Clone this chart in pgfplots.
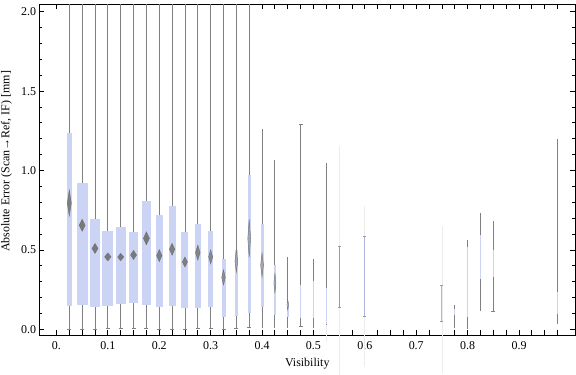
\documentclass[border=0pt]{standalone}
\usepackage{fontspec}
\setmainfont{Liberation Serif}
\usepackage{pgfplots}
\pgfplotsset{compat=1.18}
\usepgfplotslibrary{statistics}
\definecolor{boxblue}{RGB}{204,212,245}
\definecolor{wgray}{RGB}{128,128,128}
\definecolor{dgray}{RGB}{112,112,112}
\definecolor{faint}{RGB}{236,236,236}
\definecolor{bluegray}{RGB}{172,180,224}
% box: position, lower whisker, lower quartile, upper quartile, upper whisker, box extend
\newcommand{\bw}[6]{%
  \addplot[boxplot/draw direction=y,
    boxplot prepared={draw position=#1, lower whisker=#2, lower quartile=#3,
      median=#3, upper quartile=#4, upper whisker=#5, box extend=#6, whisker extend=0},
    boxplot/every box/.style={draw=none, fill=boxblue},
    boxplot/every median/.style={draw=none},
    boxplot/every whisker/.style={draw=wgray, line width=0.8bp}]
    coordinates {};}
% mean diamond: position, mean, x scale, half height (bp), opacity
\newcommand{\dm}[5]{%
  \addplot[only marks, color=dgray, mark=diamond*, mark size=1bp,
    mark options={xscale=#3, yscale=#4, draw=none, fill=dgray, fill opacity=#5}]
    coordinates {(#1,#2)};}
\begin{document}
\begin{tikzpicture}
\begin{axis}[
  scale only axis,
  width=535.5bp, height=330.7bp,
  xmin=-0.033, xmax=1.0089,
  ymin=-0.036, ymax=2.047,
  clip=false,
  axis line style={line width=0.8bp},
  every tick/.style={black, line width=0.8bp},
  major tick length=4.6bp, minor tick length=2.7bp,
  tick align=inside,
  xtick={0,0.025,0.05,0.075,0.1,0.125,0.15,0.175,0.2,0.225,0.25,0.275,0.3,0.325,0.35,0.375,0.4,0.425,0.45,0.475,0.5,0.525,0.55,0.575,0.6,0.625,0.65,0.675,0.7,0.725,0.75,0.775,0.8,0.825,0.85,0.875,0.9,0.925,0.95,0.975},
  xticklabels={0.,,,,0.1,,,,0.2,,,,0.3,,,,0.4,,,,0.5,,,,0.6,,,,0.7,,,,0.8,,,,0.9,,,},
  ytick={0,0.5,1,1.5,2},
  yticklabels={0.0,0.5,1.0,1.5,2.0},
  minor ytick={0.1,0.2,0.3,0.4,0.6,0.7,0.8,0.9,1.1,1.2,1.3,1.4,1.6,1.7,1.8,1.9},
  /pgf/number format/assume math mode=true,
  tick label style={font=\fontsize{12}{14}\selectfont},
  xticklabel style={yshift=-3bp},
  label style={font=\fontsize{12}{14}\selectfont},
  xlabel={Visibility},
  ylabel={Absolute Error (Scan→Ref, IF) [mm]},
  xlabel style={at={(axis description cs:0.5,-0.0877)}, anchor=center},
  ylabel style={at={(axis description cs:-0.0616,0.5247)}, anchor=center},
]
% faint long lines
\addplot[faint, line width=0.8bp] coordinates {(0.55,1.154) (0.55,-0.288)};
\addplot[faint, line width=0.8bp] coordinates {(0.6,0.776) (0.6,-0.235)};
\addplot[faint, line width=0.8bp] coordinates {(0.75,0.652) (0.75,-0.275)};
\addplot[faint, line width=0.8bp] coordinates {(0.525,0.03) (0.525,-0.08)};
% boxes
\bw{0.025}{0}{0.149}{1.234}{2.047}{0.00973}
\bw{0.05}{0}{0.155}{0.921}{2.047}{0.0214}
\bw{0.075}{0}{0.142}{0.695}{2.047}{0.01946}
\bw{0.1}{0.006}{0.147}{0.619}{2.047}{0.0214}
\bw{0.125}{0.006}{0.159}{0.644}{2.047}{0.01946}
\bw{0.15}{0.006}{0.166}{0.613}{2.047}{0.0175}
\bw{0.175}{0.006}{0.155}{0.808}{2.047}{0.0175}
\bw{0.2}{0}{0.142}{0.720}{2.047}{0.0142}
\bw{0.225}{0}{0.149}{0.776}{2.047}{0.0136}
\bw{0.25}{0}{0.136}{0.613}{2.047}{0.0136}
\bw{0.275}{0.006}{0.136}{0.663}{2.047}{0.01226}
\bw{0.3}{0.003}{0.142}{0.619}{2.047}{0.00973}
\bw{0.325}{0}{0.079}{0.443}{2.047}{0.00778}
\bw{0.35}{0.006}{0.086}{0.499}{2.047}{0.00584}
\bw{0.375}{0.013}{0.105}{0.970}{2.047}{0.00584}
\bw{0.4}{0.006}{0.142}{0.661}{1.261}{0.00584}
\bw{0.425}{0.006}{0.092}{0.405}{1.066}{0.00389}
\bw{0.45}{0.008}{0.079}{0.178}{0.457}{0.00389}
\bw{0.475}{0.017}{0.073}{0.28}{1.293}{0.0035}
\bw{0.5}{0.006}{0.071}{0.304}{0.443}{0.0029}
\bw{0.525}{0.027}{0.035}{0.260}{1.047}{0.00233}
\bw{0.775}{0.010}{0.09}{0.13}{0.153}{0.00156}
\bw{0.8}{0.004}{0.075}{0.520}{0.562}{0.00253}
\bw{0.825}{0.117}{0.317}{0.594}{0.734}{0.00156}
\bw{0.85}{0.113}{0.327}{0.499}{0.684}{0.00156}
\bw{0.975}{0.031}{0.098}{0.235}{1.198}{0.00233}
% short segments
\addplot[wgray!80, line width=0.8bp] coordinates {(0.55,0.136) (0.55,0.521)};
\addplot[bluegray, line width=0.9bp] coordinates {(0.6,0.079) (0.6,0.583)};
\addplot[bluegray, line width=0.9bp] coordinates {(0.75,0.048) (0.75,0.277)};
% mean diamonds
\dm{0.025}{0.795}{2.67}{13}{0.85}
\dm{0.05}{0.655}{4}{6}{0.9}
\dm{0.075}{0.509}{4}{5}{0.9}
\dm{0.1}{0.456}{4.27}{4}{0.9}
\dm{0.125}{0.455}{4}{3.7}{0.9}
\dm{0.15}{0.468}{4}{4.5}{0.9}
\dm{0.175}{0.573}{4}{6.5}{0.9}
\dm{0.2}{0.464}{3.6}{6}{0.85}
\dm{0.225}{0.504}{3.6}{6}{0.85}
\dm{0.25}{0.424}{3.33}{5}{0.85}
\dm{0.275}{0.483}{3.07}{7.5}{0.8}
\dm{0.3}{0.456}{2.67}{7}{0.75}
\dm{0.325}{0.327}{2.4}{7.5}{0.7}
\dm{0.35}{0.43}{1.87}{11}{0.45}
\dm{0.375}{0.573}{1.87}{19}{0.45}
\dm{0.4}{0.405}{1.87}{12}{0.45}
\dm{0.425}{0.29}{1.33}{10}{0.35}
\dm{0.45}{0.153}{1.07}{5}{0.2}
% whisker caps
\addplot[only marks, mark=-, mark size=2bp, mark options={wgray, line width=0.8bp}] coordinates {
 (0.025,0) (0.05,0) (0.075,0) (0.1,0.006) (0.125,0.006) (0.15,0.006) (0.175,0.006)
 (0.2,0) (0.225,0) (0.25,0) (0.275,0.006) (0.3,0.003) (0.325,0) (0.35,0.006) (0.375,0.013)
 (0.475,0.017) (0.475,1.293) (0.85,0.113)};
\addplot[only marks, mark=-, mark size=1.5bp, mark options={wgray!80, line width=0.8bp}] coordinates {
 (0.55,0.136) (0.55,0.521) (0.6,0.079) (0.6,0.583) (0.75,0.048) (0.75,0.277)};
\end{axis}
\pgfresetboundingbox
\path[use as bounding box] ([shift={(-39.5bp,-40bp)}]current axis.south west) rectangle ([shift={(1bp,4.3bp)}]current axis.north east);
\end{tikzpicture}
\end{document}
